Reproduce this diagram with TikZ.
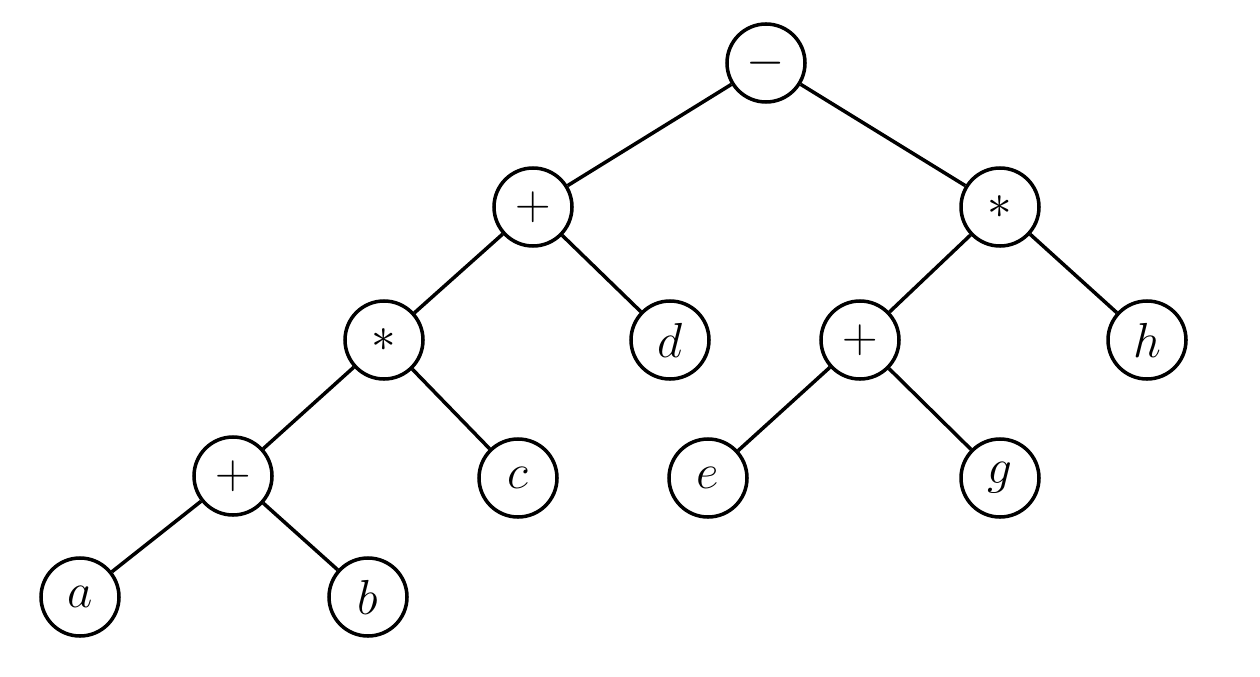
\RequirePackage{fix-cm}
\documentclass[tikz,border=0pt]{standalone}
\begin{document}
\begin{tikzpicture}[x=0.03cm,y=-0.03cm,
  tn/.style={circle,draw,line width=3pt,minimum size=2.34cm,inner sep=0pt,font=\fontsize{42}{48}\selectfont},
  edge/.style={line width=3pt}]
\fill[white] (0,0) rectangle (1260,677);
\useasboundingbox (0,0) rectangle (1260,677);
\node[tn] (r) at (766,63) {$-$};
\node[tn] (p1) at (533,207) {$+$};
\node[tn] (m1) at (1000,207) {$\ast$};
\node[tn] (m2) at (384,340) {$\ast$};
\node[tn] (d) at (670,340) {$d$};
\node[tn] (p2) at (860,340) {$+$};
\node[tn] (h) at (1147,340) {$h$};
\node[tn] (p3) at (233,476) {$+$};
\node[tn] (c) at (518,478) {$c$};
\node[tn] (e) at (708,478) {$e$};
\node[tn] (g) at (1000,478) {$g$};
\node[tn] (a) at (80,597) {$a$};
\node[tn] (b) at (368,597) {$b$};
\draw[edge] (r) -- (p1);
\draw[edge] (r) -- (m1);
\draw[edge] (p1) -- (m2);
\draw[edge] (p1) -- (d);
\draw[edge] (m1) -- (p2);
\draw[edge] (m1) -- (h);
\draw[edge] (m2) -- (p3);
\draw[edge] (m2) -- (c);
\draw[edge] (p2) -- (e);
\draw[edge] (p2) -- (g);
\draw[edge] (p3) -- (a);
\draw[edge] (p3) -- (b);
\end{tikzpicture}
\end{document}
